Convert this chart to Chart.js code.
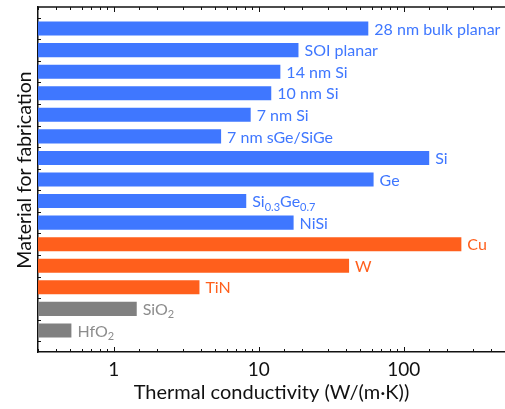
<!DOCTYPE html>
<html>
<head>
<meta charset="utf-8">
<script src="https://cdn.jsdelivr.net/npm/chart.js@4.4.0/dist/chart.umd.min.js"></script>
<style>
    html, body { margin: 0; padding: 0; background: #fff; overflow: hidden; }
    #wrap { width: 505px; height: 409px; }
</style>
</head>
<body>
<div id="wrap"><canvas id="chart"></canvas></div>
<script>
// Materials (top to bottom), subscripts written as _{...}
const materials = [
    '28 nm bulk planar', 'SOI planar', '14 nm Si', '10 nm Si', '7 nm Si',
    '7 nm sGe/SiGe', 'Si', 'Ge', 'Si_{0.3}Ge_{0.7}', 'NiSi',
    'Cu', 'W', 'TiN', 'SiO_{2}', 'HfO_{2}'
];
// Thermal conductivity, W/(m·K)
const conductivity = [57, 18.8, 14.1, 12.2, 8.8, 5.5, 150, 62, 8.2, 17.4, 250, 42, 3.9, 1.44, 0.51];
const materialGroup = [
    'semi', 'semi', 'semi', 'semi', 'semi', 'semi', 'semi', 'semi', 'semi', 'semi',
    'metal', 'metal', 'metal', 'oxide', 'oxide'
];
const tickLabels = [1, 10, 100];

const barColors = { semi: '#3f77ff', metal: '#ff5f1c', oxide: '#808080' };
const textColors = { semi: '#3f77ff', metal: '#ff5f1c', oxide: '#8c8c8c' };
const FONT = 'Lato, "Noto Sans", sans-serif';

// bar end labels with simple subscript support
const barLabels = {
    id: 'barLabels',
    afterDatasetsDraw(chart) {
        const ctx = chart.ctx;
        const meta = chart.getDatasetMeta(0);
        ctx.save();
        ctx.textBaseline = 'middle';
        ctx.textAlign = 'left';
        meta.data.forEach((bar, i) => {
            ctx.fillStyle = textColors[materialGroup[i]];
            let x = bar.x + 6;
            const y = bar.y + 1;
            const parts = materials[i].split(/(_\{[^}]*\})/).filter(p => p);
            parts.forEach(p => {
                if (p.startsWith('_{')) {
                    ctx.font = '11px ' + FONT;
                    const t = p.slice(2, -1);
                    ctx.fillText(t, x, y + 5);
                    x += ctx.measureText(t).width;
                } else {
                    ctx.font = '16px ' + FONT;
                    ctx.fillText(p, x, y);
                    x += ctx.measureText(p).width;
                }
            });
        });
        ctx.restore();
    }
};

// frame: top line, y title, inward ticks on bottom/top/left
const frameTicks = {
    id: 'frameTicks',
    afterDraw(chart) {
        const { ctx, chartArea: a } = chart;
        const xs = chart.scales.x;
        const ys = chart.scales.y;
        ctx.save();
        ctx.strokeStyle = '#111';
        ctx.lineWidth = 1.5;
        ctx.beginPath();
        ctx.moveTo(a.left, a.top);
        ctx.lineTo(a.right, a.top);
        ctx.stroke();
        ctx.lineWidth = 1;
        ctx.beginPath();
        xs.ticks.forEach(t => {
            const px = Math.round(xs.getPixelForValue(t.value)) + 0.5;
            const major = Math.abs(Math.log10(t.value) - Math.round(Math.log10(t.value))) < 1e-9;
            const len = major ? 5 : 3;
            ctx.moveTo(px, a.bottom);
            ctx.lineTo(px, a.bottom - len);
            ctx.moveTo(px, a.top);
            ctx.lineTo(px, a.top + len);
        });
        for (let i = 0; i <= materials.length; i++) {
            const py = Math.round(ys.getPixelForValue(i - 0.5)) + 0.5;
            ctx.moveTo(a.left, py);
            ctx.lineTo(a.left + 3, py);
        }
        ctx.stroke();

        ctx.translate(25, 170);
        ctx.rotate(-Math.PI / 2);
        ctx.fillStyle = '#111';
        ctx.font = '19.5px ' + FONT;
        ctx.textAlign = 'center';
        ctx.textBaseline = 'middle';
        ctx.fillText('Material for fabrication', 0, 0);
        ctx.restore();
    }
};

new Chart(document.getElementById('chart'), {
    type: 'bar',
    plugins: [barLabels, frameTicks],
    data: {
        datasets: [{
            data: conductivity.map((v, i) => ({ x: v, y: i })),
            backgroundColor: materialGroup.map(g => barColors[g]),
            borderWidth: 0,
            barPercentage: 0.65,
            categoryPercentage: 1
        }]
    },
    options: {
        indexAxis: 'y',
        responsive: true,
        maintainAspectRatio: false,
        animation: false,
        layout: { padding: { top: 7, right: 0, left: 0, bottom: 0 } },
        plugins: { legend: { display: false }, tooltip: { enabled: false } },
        scales: {
            x: {
                type: 'logarithmic',
                min: 0.3,
                max: 500,
                offset: false,
                grid: {
                    display: true,
                    drawOnChartArea: false,
                    drawTicks: true,
                    tickLength: 6,
                    color: 'rgba(0,0,0,0)',
                    tickColor: 'rgba(0,0,0,0)'
                },
                border: { display: true, color: '#111', width: 1.5 },
                ticks: {
                    autoSkip: false,
                    maxRotation: 0,
                    color: '#111',
                    font: { family: FONT, size: 19 },
                    padding: 0,
                    callback: (v) => tickLabels.includes(v) ? String(v) : ''
                },
                title: {
                    display: true,
                    text: 'Thermal conductivity (W/(m·K))',
                    color: '#111',
                    font: { family: FONT, size: 20 },
                    padding: { top: 0, bottom: 4 }
                },
                afterFit: (s) => { s.height = 57; }
            },
            y: {
                type: 'linear',
                reverse: true,
                min: -1,
                max: 15,
                offset: false,
                grid: { display: false, drawTicks: false, offset: false },
                border: { display: true, color: '#111', width: 1.5 },
                ticks: { display: false },
                afterFit: (s) => { s.width = 38; }
            }
        }
    }
});
</script>
</body>
</html>
